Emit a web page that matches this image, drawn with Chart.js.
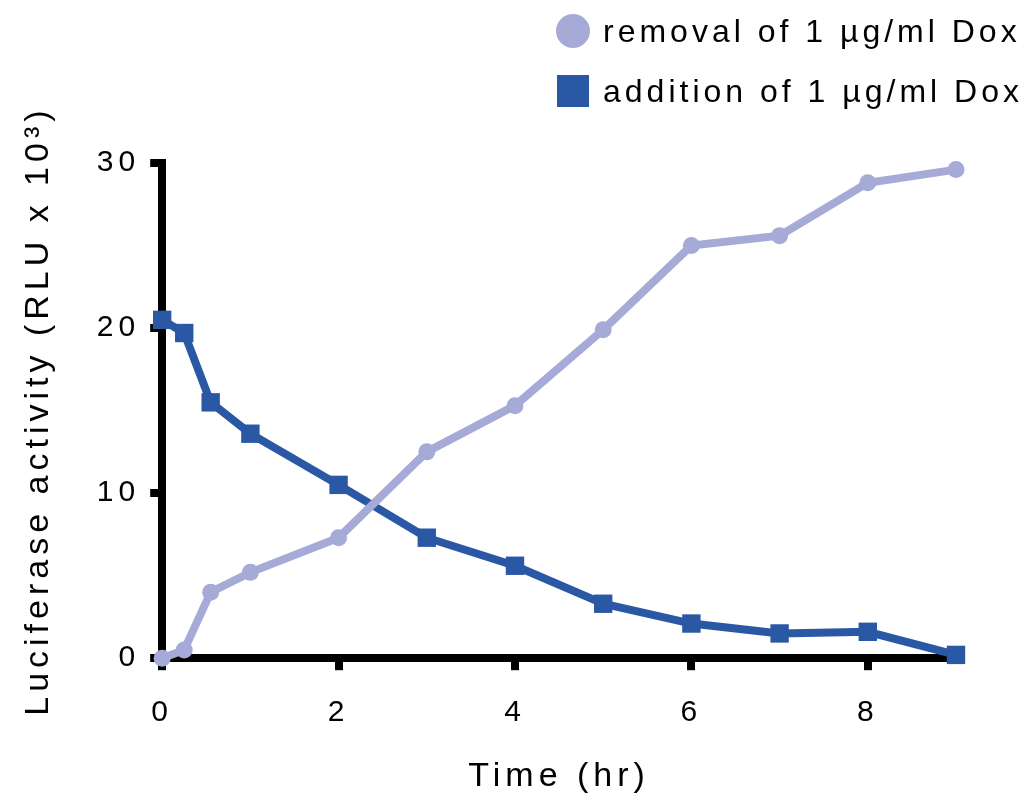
<!DOCTYPE html>
<html>
<head>
<meta charset="utf-8">
<script src="https://cdn.jsdelivr.net/npm/chart.js@4.4.1/dist/chart.umd.min.js"></script>
<style>
  html, body { margin: 0; padding: 0; background: #fff; }
  canvas { display: block; }
</style>
</head>
<body>
<canvas id="graph" width="1031" height="798"></canvas>
<script>
// values
const timeHr = [0, 0.25, 0.55, 1, 2, 3, 4, 5, 6, 7, 8, 9];
const removalDox = [0, 0.5, 4.0, 5.2, 7.3, 12.5, 15.3, 19.9, 25.0, 25.6, 28.8, 29.6];
const additionDox = [20.5, 19.7, 15.5, 13.6, 10.5, 7.3, 5.6, 3.3, 2.1, 1.5, 1.6, 0.2];
const seriesLabels = ['removal of 1 µg/ml Dox', 'addition of 1 µg/ml Dox'];
const xTicks = [0, 2, 4, 6, 8];
const yTicks = [0, 10, 20, 30];

const light = '#A6AAD6';
const dark = '#2A58A5';

Chart.defaults.font.family = '"Liberation Sans", Arial, sans-serif';
Chart.defaults.color = '#000';

function toPoints(ys) {
  return timeHr.map((x, i) => ({ x: x, y: ys[i] }));
}

// the original text looks spread out, give the canvas some letter spacing
const spacingPlugin = {
  id: 'spacing',
  beforeUpdate(chart) {
    chart.ctx.letterSpacing = '5px';
  }
};

// two stacked legend rows in the top right corner
const stackedLegend = {
  id: 'stackedLegend',
  afterDraw(chart) {
    const ctx = chart.ctx;
    ctx.save();
    ctx.font = '32px "Liberation Sans", Arial, sans-serif';
    ctx.letterSpacing = '4px';
    ctx.textBaseline = 'middle';
    ctx.textAlign = 'left';
    chart.data.datasets.forEach((ds, i) => {
      const cy = 31 + i * 60;
      const cx = 573;
      ctx.fillStyle = ds.borderColor;
      if (ds.pointStyle === 'circle') {
        ctx.beginPath();
        ctx.arc(cx, cy, 17, 0, Math.PI * 2);
        ctx.fill();
      } else {
        ctx.fillRect(cx - 16, cy - 16, 32, 32);
      }
      ctx.fillStyle = '#000';
      ctx.fillText(ds.label, 603, cy + 2);
    });
    ctx.restore();
  }
};

const ctx = document.getElementById('graph').getContext('2d');

new Chart(ctx, {
  type: 'line',
  data: {
    datasets: [
      {
        label: seriesLabels[0],
        data: toPoints(removalDox),
        borderColor: light,
        backgroundColor: light,
        borderWidth: 8,
        pointStyle: 'circle',
        pointRadius: 8.5,
        pointBorderWidth: 0,
        tension: 0,
        clip: false
      },
      {
        label: seriesLabels[1],
        data: toPoints(additionDox),
        borderColor: dark,
        backgroundColor: dark,
        borderWidth: 8,
        pointStyle: 'rect',
        pointRadius: 13,
        pointBorderWidth: 0,
        tension: 0,
        clip: false
      }
    ]
  },
  plugins: [spacingPlugin, stackedLegend],
  options: {
    responsive: false,
    animation: false,
    layout: {
      padding: { top: 163, right: 75, left: 0, bottom: 0 }
    },
    plugins: {
      legend: { display: false },
      tooltip: { enabled: false }
    },
    scales: {
      x: {
        type: 'linear',
        min: 0,
        max: 9,
        afterBuildTicks: scale => { scale.ticks = xTicks.map(v => ({ value: v })); },
        ticks: {
          font: { size: 30 },
          padding: 25,
          maxRotation: 0
        },
        grid: {
          drawOnChartArea: false,
          tickLength: 12,
          lineWidth: 8,
          tickWidth: 8,
          tickColor: '#000'
        },
        border: { display: true, width: 8, color: '#000' },
        title: {
          display: true,
          text: 'Time (hr)',
          font: { size: 34 },
          padding: { top: 0, bottom: 1 }
        }
      },
      y: {
        min: 0,
        max: 30,
        afterBuildTicks: scale => { scale.ticks = yTicks.map(v => ({ value: v })); },
        ticks: {
          font: { size: 30 },
          padding: 10
        },
        grid: {
          drawOnChartArea: false,
          tickLength: 12,
          lineWidth: 8,
          tickWidth: 8,
          tickColor: '#000'
        },
        border: { display: true, width: 8, color: '#000' },
        title: {
          display: true,
          text: 'Luciferase activity (RLU x 10³)',
          font: { size: 34 },
          padding: { top: 18, bottom: 28 }
        }
      }
    }
  }
});
</script>
</body>
</html>
